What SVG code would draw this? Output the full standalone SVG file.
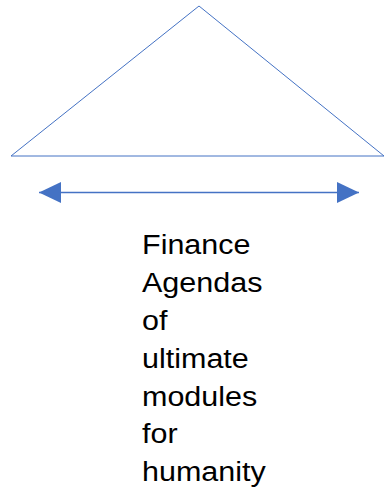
<svg xmlns="http://www.w3.org/2000/svg" width="384" height="489" viewBox="0 0 384 489">
  <style>
    .shape { fill: none; stroke: #4472C4; stroke-width: 1; }
    .conn { stroke: #4472C4; stroke-width: 1.5; fill: none; }
    .label { font-family: "Liberation Sans", Arial, sans-serif; font-size: 27px; fill: #000000; }
  </style>
  <defs>
    <marker id="head" viewBox="0 0 22 21" markerUnits="userSpaceOnUse" markerWidth="22" markerHeight="21" refX="22" refY="10.5" orient="auto-start-reverse">
      <path d="M0,0 L22,10.5 L0,21 Z" fill="#4472C4"/>
    </marker>
  </defs>
  <rect width="384" height="489" fill="#ffffff"/>
  <g id="triangle">
    <polygon class="shape" points="199,6 11,156 384,156"/>
  </g>
  <g id="connectors">
    <line class="conn" x1="39" y1="192.5" x2="359" y2="192.5" marker-start="url(#head)" marker-end="url(#head)"/>
  </g>
  <g id="label" transform="translate(142,0) scale(1.13,1)">
    <text class="label" x="0">
      <tspan x="0" y="254.5">Finance</tspan>
      <tspan x="0" y="292.3">Agendas</tspan>
      <tspan x="0" y="330.1">of</tspan>
      <tspan x="0" y="367.9">ultimate</tspan>
      <tspan x="0" y="405.7">modules</tspan>
      <tspan x="0" y="443.5">for</tspan>
      <tspan x="0" y="481.3">humanity</tspan>
    </text>
  </g>
</svg>
